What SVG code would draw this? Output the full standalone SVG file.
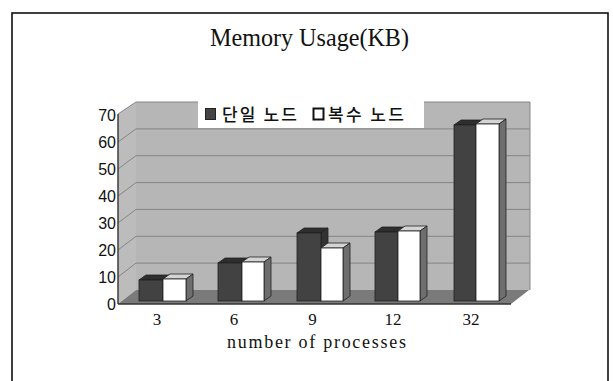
<svg xmlns="http://www.w3.org/2000/svg" width="613" height="381" viewBox="0 0 613 381">
  <style>
    .frame { fill: none; stroke: #111; stroke-width: 1.6; }
    .wall { fill: #b6b6b6; }
    .side { fill: #bcbcbc; }
    .floor { fill: #7a7a7a; }
    .grid { stroke: #858585; stroke-width: 1; fill: none; }
    .axis { stroke: #333; stroke-width: 1.4; fill: none; }
    .dFront { fill: #424242; stroke: #222; stroke-width: 0.8; }
    .dTop { fill: #2e2e2e; stroke: #222; stroke-width: 0.8; }
    .dSide { fill: #333; stroke: #222; stroke-width: 0.8; }
    .wFront { fill: #ffffff; stroke: #222; stroke-width: 0.8; }
    .wTop { fill: #d4d4d4; stroke: #222; stroke-width: 0.8; }
    .wSide { fill: #6e6e6e; stroke: #222; stroke-width: 0.8; }
    .title { font-family: "Liberation Serif", serif; font-size: 26px; fill: #111; }
    .xlab { font-family: "Liberation Serif", serif; font-size: 17px; fill: #111; text-anchor: middle; }
    .xname { font-family: "Liberation Serif", serif; font-size: 18px; fill: #111; }
    .ylab { font-family: "Liberation Sans", sans-serif; font-size: 16px; fill: #111; text-anchor: end; }
    .leg { font-family: "Noto Sans CJK KR", sans-serif; font-size: 17px; font-weight: 500; fill: #111; }
  </style>

  <rect width="613" height="381" fill="#ffffff"/>
  <rect class="frame" x="12" y="13" width="596" height="380"/>

  <text class="title" x="210" y="46" textLength="199" lengthAdjust="spacingAndGlyphs">Memory Usage(KB)</text>

  <!-- chart walls -->
  <g id="plot-area">
    <rect class="wall" x="136" y="102" width="394" height="188"/>
    <polygon class="side" points="118,114 136,102 136,290 118,304"/>
    <polygon class="floor" points="118,304 511,304 529,290 136,290"/>
    <!-- gridlines on back wall -->
    <g class="grid">
      <line x1="136" y1="263.1" x2="530" y2="263.1"/>
      <line x1="136" y1="236.3" x2="530" y2="236.3"/>
      <line x1="136" y1="209.4" x2="530" y2="209.4"/>
      <line x1="136" y1="182.6" x2="530" y2="182.6"/>
      <line x1="136" y1="155.7" x2="530" y2="155.7"/>
      <line x1="136" y1="128.9" x2="530" y2="128.9"/>
      <line x1="118" y1="277" x2="136" y2="263.1"/>
      <line x1="118" y1="250" x2="136" y2="236.3"/>
      <line x1="118" y1="223" x2="136" y2="209.4"/>
      <line x1="118" y1="196" x2="136" y2="182.6"/>
      <line x1="118" y1="169" x2="136" y2="155.7"/>
      <line x1="118" y1="142" x2="136" y2="128.9"/>
      <polyline points="118,114 136,102 530,102 530,290"/>
    </g>
    <g class="axis">
      <line x1="118" y1="114" x2="118" y2="304"/>
      <line x1="118" y1="304" x2="511" y2="304"/>
    </g>
  </g>

  <!-- y-axis labels -->
  <g id="y-axis">
    <text class="ylab" x="116" y="310">0</text>
    <text class="ylab" x="116" y="283">10</text>
    <text class="ylab" x="116" y="256">20</text>
    <text class="ylab" x="116" y="229">30</text>
    <text class="ylab" x="116" y="202">40</text>
    <text class="ylab" x="116" y="175">50</text>
    <text class="ylab" x="116" y="148">60</text>
    <text class="ylab" x="116" y="121">70</text>
  </g>

  <!-- bars: dark = single node, white = multiple nodes; depth offset (7,-5) -->
  <g id="bars-3">
    <polygon class="dTop" points="139,280 146,275 170,275 163,280"/>
    <rect class="dFront" x="139" y="280" width="24" height="21"/>
    <polygon class="wTop" points="163,279 170,274 193,274 186,279"/>
    <polygon class="wSide" points="186,279 193,274 193,296 186,301"/>
    <rect class="wFront" x="163" y="279" width="23" height="22"/>
  </g>
  <g id="bars-6">
    <polygon class="dTop" points="218,263 225,258 249,258 242,263"/>
    <rect class="dFront" x="218" y="263" width="24" height="38"/>
    <polygon class="wTop" points="242,262 249,257 271,257 264,262"/>
    <polygon class="wSide" points="264,262 271,257 271,296 264,301"/>
    <rect class="wFront" x="242" y="262" width="22" height="39"/>
  </g>
  <g id="bars-9">
    <polygon class="dTop" points="297,233 304,228 328,228 321,233"/>
    <polygon class="dSide" points="321,233 328,228 328,243 321,248"/>
    <rect class="dFront" x="297" y="233" width="24" height="68"/>
    <polygon class="wTop" points="321,248 328,243 350,243 343,248"/>
    <polygon class="wSide" points="343,248 350,243 350,296 343,301"/>
    <rect class="wFront" x="321" y="248" width="22" height="53"/>
  </g>
  <g id="bars-12">
    <polygon class="dTop" points="375,232 382,227 405,227 398,232"/>
    <rect class="dFront" x="375" y="232" width="23" height="69"/>
    <polygon class="wTop" points="398,231 405,226 427,226 420,231"/>
    <polygon class="wSide" points="420,231 427,226 427,296 420,301"/>
    <rect class="wFront" x="398" y="231" width="22" height="70"/>
  </g>
  <g id="bars-32">
    <polygon class="dTop" points="454,125 461,120 483,120 476,125"/>
    <rect class="dFront" x="454" y="125" width="22" height="176"/>
    <polygon class="wTop" points="476,124 483,119 506,119 499,124"/>
    <polygon class="wSide" points="499,124 506,119 506,296 499,301"/>
    <rect class="wFront" x="476" y="124" width="23" height="177"/>
  </g>

  <!-- x-axis labels -->
  <g id="x-axis">
    <text class="xlab" x="157" y="325">3</text>
    <text class="xlab" x="234" y="325">6</text>
    <text class="xlab" x="312.5" y="325">9</text>
    <text class="xlab" x="393" y="325">12</text>
    <text class="xlab" x="471" y="325">32</text>
    <text class="xname" x="227" y="348" textLength="179" lengthAdjust="spacing">number of processes</text>
  </g>

  <!-- legend -->
  <g id="legend">
    <rect x="198" y="99" width="226" height="29" fill="#ffffff"/>
    <rect x="205.5" y="108.5" width="10" height="11" fill="#444" stroke="#222" stroke-width="1"/>
    <text class="leg" x="222" y="121" textLength="75" lengthAdjust="spacing">단일 노드</text>
    <rect x="313.5" y="108.5" width="10" height="11" fill="#fff" stroke="#111" stroke-width="2"/>
    <text class="leg" x="328" y="121" textLength="76" lengthAdjust="spacing">복수 노드</text>
  </g>
</svg>
